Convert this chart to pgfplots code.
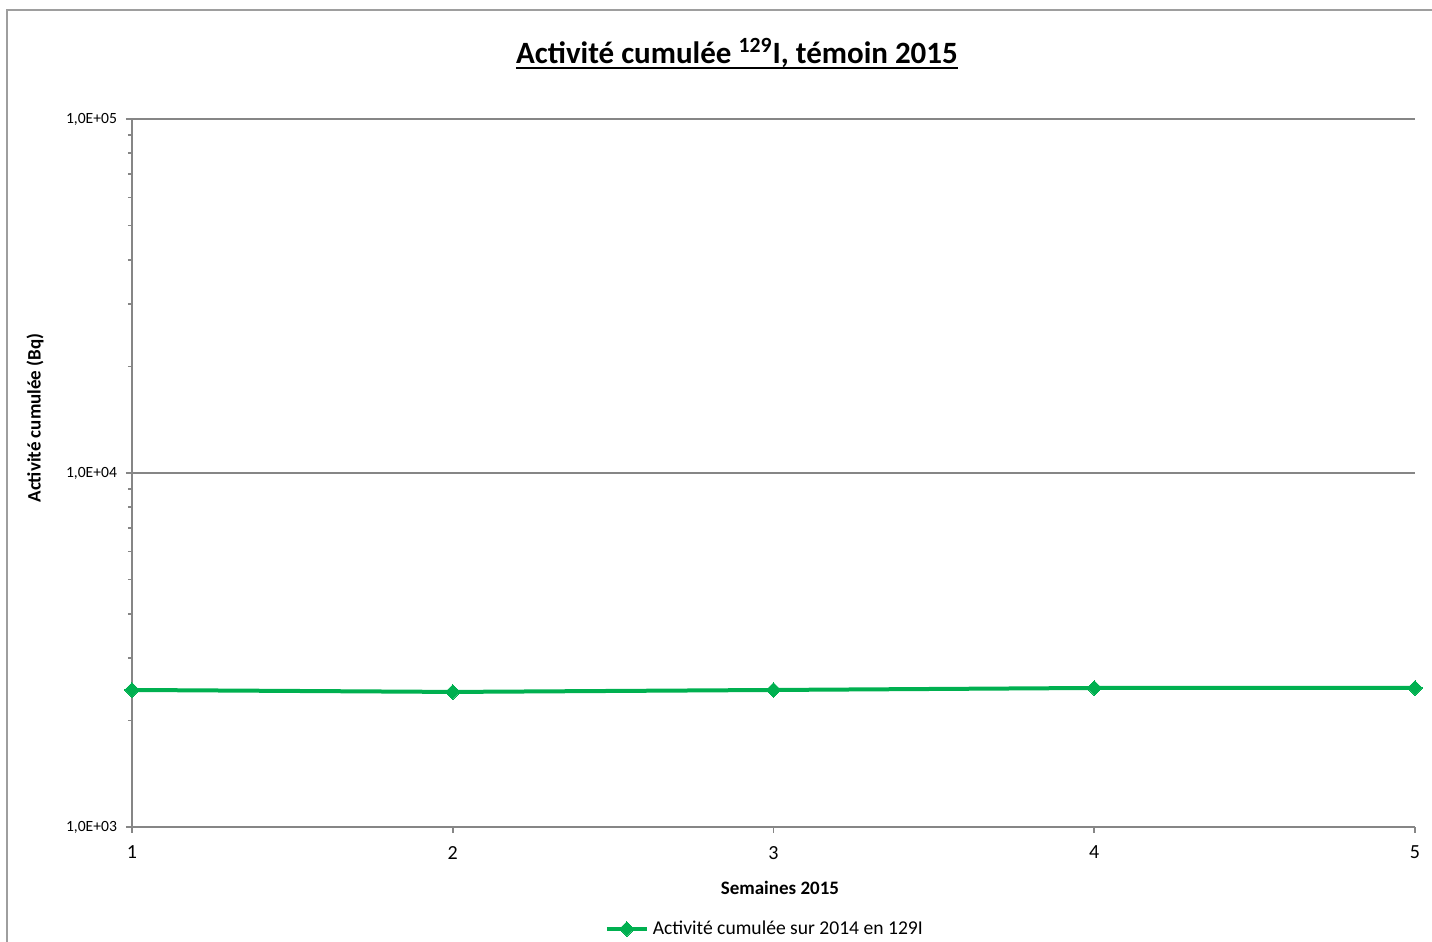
\documentclass[border=0pt]{standalone}
\usepackage{pgfplots}
\pgfplotsset{compat=1.18}
\usepackage{fontspec}
\setmainfont{Carlito}
\definecolor{exgreen}{HTML}{00B050}
\definecolor{axgray}{HTML}{868686}
\begin{document}
\begin{tikzpicture}[x=1pt,y=1pt]
\useasboundingbox (0,0) rectangle (716,471);
\draw[axgray!80, line width=0.6pt] (3.5,0) -- (3.5,466) -- (716,466);
\node[font=\bfseries\fontsize{15.5}{18}\selectfont, inner sep=0pt] (T) at (368.5,444.5) {Activité cumulée \textsuperscript{129}I, témoin 2015};
\draw[line width=0.9pt] ([yshift=-2.4pt]T.base west) -- ([yshift=-2.4pt]T.base east);
\begin{axis}[
  at={(66pt,57.5pt)}, anchor=south west,
  scale only axis, width=641.5pt, height=354pt,
  ymode=log, xmin=1, xmax=5, ymin=1000, ymax=100000,
  xtick={1,2,3,4,5},
  ytick={1000,10000,100000},
  yticklabels={{1,0E+03},{1,0E+04},{1,0E+05}},
  axis x line*=bottom, axis y line*=left,
  axis line style={axgray, line width=0.8pt, -},
  ymajorgrids, major grid style={axgray, line width=0.8pt},
  tick align=outside,
  tick style={axgray, line width=0.8pt},
  major tick length=3pt, minor tick length=2pt,
  yticklabel style={font=\fontsize{7.8}{9}\selectfont, xshift=-1pt},
  xticklabel style={font=\fontsize{10}{12}\selectfont, yshift=-3pt},
  /pgf/number format/assume math mode=true,
  xlabel={Semaines 2015},
  ylabel={Activité cumulée (Bq)},
  label style={font=\bfseries\fontsize{9.5}{11}\selectfont},
  xlabel style={at={(axis description cs:0.505,-0.0862)}, anchor=center},
  ylabel style={at={(axis description cs:-0.0756,0.5777)}, anchor=center},
  legend style={at={(axis description cs:0.494,-0.144)}, anchor=center, draw=none, font=\fontsize{9.8}{12}\selectfont, inner sep=0pt},
  legend image code/.code={
    \draw[#1, mark repeat=2, mark phase=2] plot coordinates {(0pt,0pt) (10pt,0pt) (20pt,0pt)};
  },
  clip=false,
]
\addplot[color=exgreen, line width=2pt, mark=square*, mark size=2.6pt, mark options={solid, line width=0pt, fill=exgreen, rotate=45}]
  coordinates {(1,2438) (2,2407) (3,2438) (4,2470) (5,2470)};
\addlegendentry{Activité cumulée sur 2014 en 129I}
\end{axis}
\end{tikzpicture}
\end{document}
